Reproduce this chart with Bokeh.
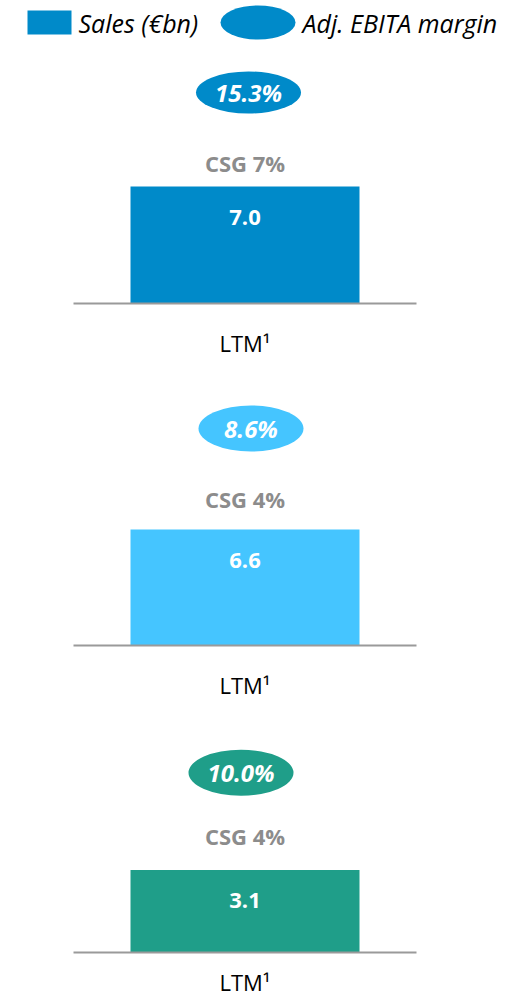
from bokeh.plotting import figure
from bokeh.layouts import column
from bokeh.models import Range1d, FactorRange, ColumnDataSource
from bokeh.transform import dodge
from bokeh.embed import file_html
from bokeh.resources import INLINE
from bokeh.core.properties import value

# ---- data ----
categories = ["LTM\u00b9"]
sales = [7.0, 6.6, 3.1]                 # Sales (€bn)
margins = [15.3, 8.6, 10.0]             # Adj. EBITA margin (%)
csg = [7, 4, 4]                         # CSG (%)
colors = ["#008AC9", "#45C5FF", "#1F9E89"]
legend_labels = ["Sales (\u20acbn)", "Adj. EBITA margin"]

FONT = "Open Sans"
W = 531
FRAME_W = 343
BORDER_L = 73

# ---- layout parameters per panel (pixels) ----
panels = [
    dict(fig_h=334, frame_h=247, bar_px=117, ell_up=94, ell_dx=3.5, ell_h=42, csg_up=24, standoff=24),
    dict(fig_h=345, frame_h=255, bar_px=116, ell_up=101, ell_dx=6.0, ell_h=46, csg_up=31, standoff=24),
    dict(fig_h=264, frame_h=221, bar_px=84, ell_up=99, ell_dx=-4.0, ell_h=46, csg_up=35, standoff=14),
]

# ---- legend strip ----
LEG_H = 56
leg = figure(width=W, height=LEG_H, x_range=Range1d(0, W), y_range=Range1d(LEG_H, 0),
             output_backend="svg", toolbar_location=None, min_border=0, frame_align=False)
leg.axis.visible = False
leg.grid.visible = False
leg.outline_line_color = None
leg.rect(x=[49], y=[22], width=44, height=24, fill_color=colors[0], line_color=None)
leg.ellipse(x=[257.5], y=[22], width=75, height=34, fill_color=colors[0], line_color=None)
leg.text(x=[78, 302], y=[22, 22], text=legend_labels, text_font=value(FONT),
         text_font_style="italic", text_font_size="25px", text_color="#000000",
         text_align="left", text_baseline="middle")

figs = [leg]
for i, cfg in enumerate(panels):
    scale = cfg["bar_px"] / sales[i]             # px per €bn
    y_end = cfg["frame_h"] / scale
    p = figure(width=W, height=cfg["fig_h"],
               x_range=FactorRange(*categories, range_padding=0),
               y_range=Range1d(0, y_end),
               output_backend="svg", toolbar_location=None, frame_align=False,
               min_border_left=BORDER_L, min_border_right=W - BORDER_L - FRAME_W,
               min_border_top=0, min_border_bottom=cfg["fig_h"] - cfg["frame_h"])
    p.yaxis.visible = False
    p.grid.visible = False
    p.outline_line_color = None
    p.background_fill_color = "white"
    p.border_fill_color = "white"

    xa = p.xaxis[0]
    xa.axis_line_color = "#9A9A9A"
    xa.axis_line_width = 2
    xa.major_tick_line_color = None
    xa.minor_tick_line_color = None
    xa.major_tick_out = 0
    xa.major_label_standoff = cfg["standoff"]
    xa.major_label_text_font = FONT
    xa.major_label_text_font_size = "22px"
    xa.major_label_text_color = "#000000"

    src = ColumnDataSource(dict(
        x=categories,
        top=[sales[i]],
        ey=[sales[i] + cfg["ell_up"] / scale],
        mt=[f"{margins[i]:.1f}%"],
        cy=[sales[i] + cfg["csg_up"] / scale],
        ct=[f"CSG {csg[i]}%"],
        vy=[sales[i] - 31 / scale],
        vt=[f"{sales[i]:.1f}"],
    ))
    p.vbar(x="x", top="top", bottom=0, width=229 / FRAME_W, source=src,
           fill_color=colors[i], line_color=None)
    ex = dodge("x", cfg["ell_dx"] / FRAME_W, range=p.x_range)
    p.ellipse(x=ex, y="ey", width=105, height=cfg["ell_h"], width_units="screen",
              height_units="screen", source=src, fill_color=colors[i], line_color=None)
    p.text(x=ex, y="ey", text="mt", source=src, text_font=value(FONT),
           text_font_style="bold italic", text_font_size="24px", text_color="white",
           text_align="center", text_baseline="middle")
    p.text(x="x", y="cy", text="ct", source=src, text_font=value(FONT),
           text_font_style="bold", text_font_size="22px", text_color="#8C8C8C",
           text_align="center", text_baseline="middle")
    p.text(x="x", y="vy", text="vt", source=src, text_font=value(FONT),
           text_font_style="bold", text_font_size="22px", text_color="white",
           text_align="center", text_baseline="middle")
    figs.append(p)

layout = column(*figs, spacing=0)
open("out.html", "w").write(file_html(layout, INLINE))
